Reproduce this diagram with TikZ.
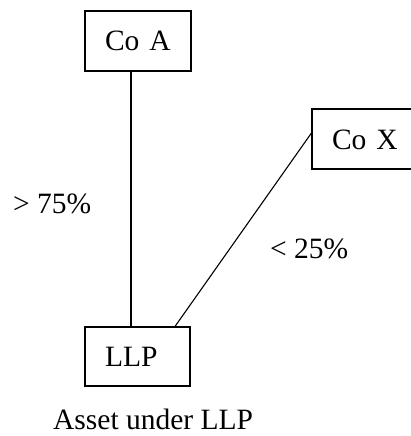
\documentclass[tikz,border=0pt]{standalone}
\usepackage{fontspec}
\setmainfont{Liberation Serif}
\begin{document}
\begin{tikzpicture}[x=1pt,y=-1pt,
  every node/.style={font=\fontsize{29.5}{34}\selectfont},
  entbox/.style={draw=black,line width=1.1pt,rectangle,inner xsep=20pt,inner ysep=0pt,
    text height=20pt,text depth=0pt,align=left},
  conn/.style={draw=black,line width=1.1pt},
  lbl/.style={anchor=base west,inner sep=0pt}]
\useasboundingbox (0,0) rectangle (410,436);
\node[entbox,minimum width=106pt,minimum height=60pt,text width=66pt] (coA) at (138,41) {\mbox{Co A}};
\node[entbox,minimum width=102pt,minimum height=60pt,text width=62pt] (coX) at (363,139) {\mbox{Co X}};
\node[entbox,minimum width=105pt,minimum height=59pt,text width=65pt] (llp) at (137.5,356.5) {\mbox{LLP}};
\coordinate (vx) at (131,0);
\coordinate (dA) at (175,0);
\coordinate (dB) at (0,133);
\draw[conn] (coA.south -| vx) -- (llp.north -| vx);
\draw[conn] (llp.north -| dA) -- (coX.west |- dB);
\node[lbl] (l75) at (13,213) {> 75\%};
\node[lbl] (l25) at (270,258) {< 25\%};
\node[lbl] (cap) at (53,429) {Asset under LLP};
\end{tikzpicture}
\end{document}
